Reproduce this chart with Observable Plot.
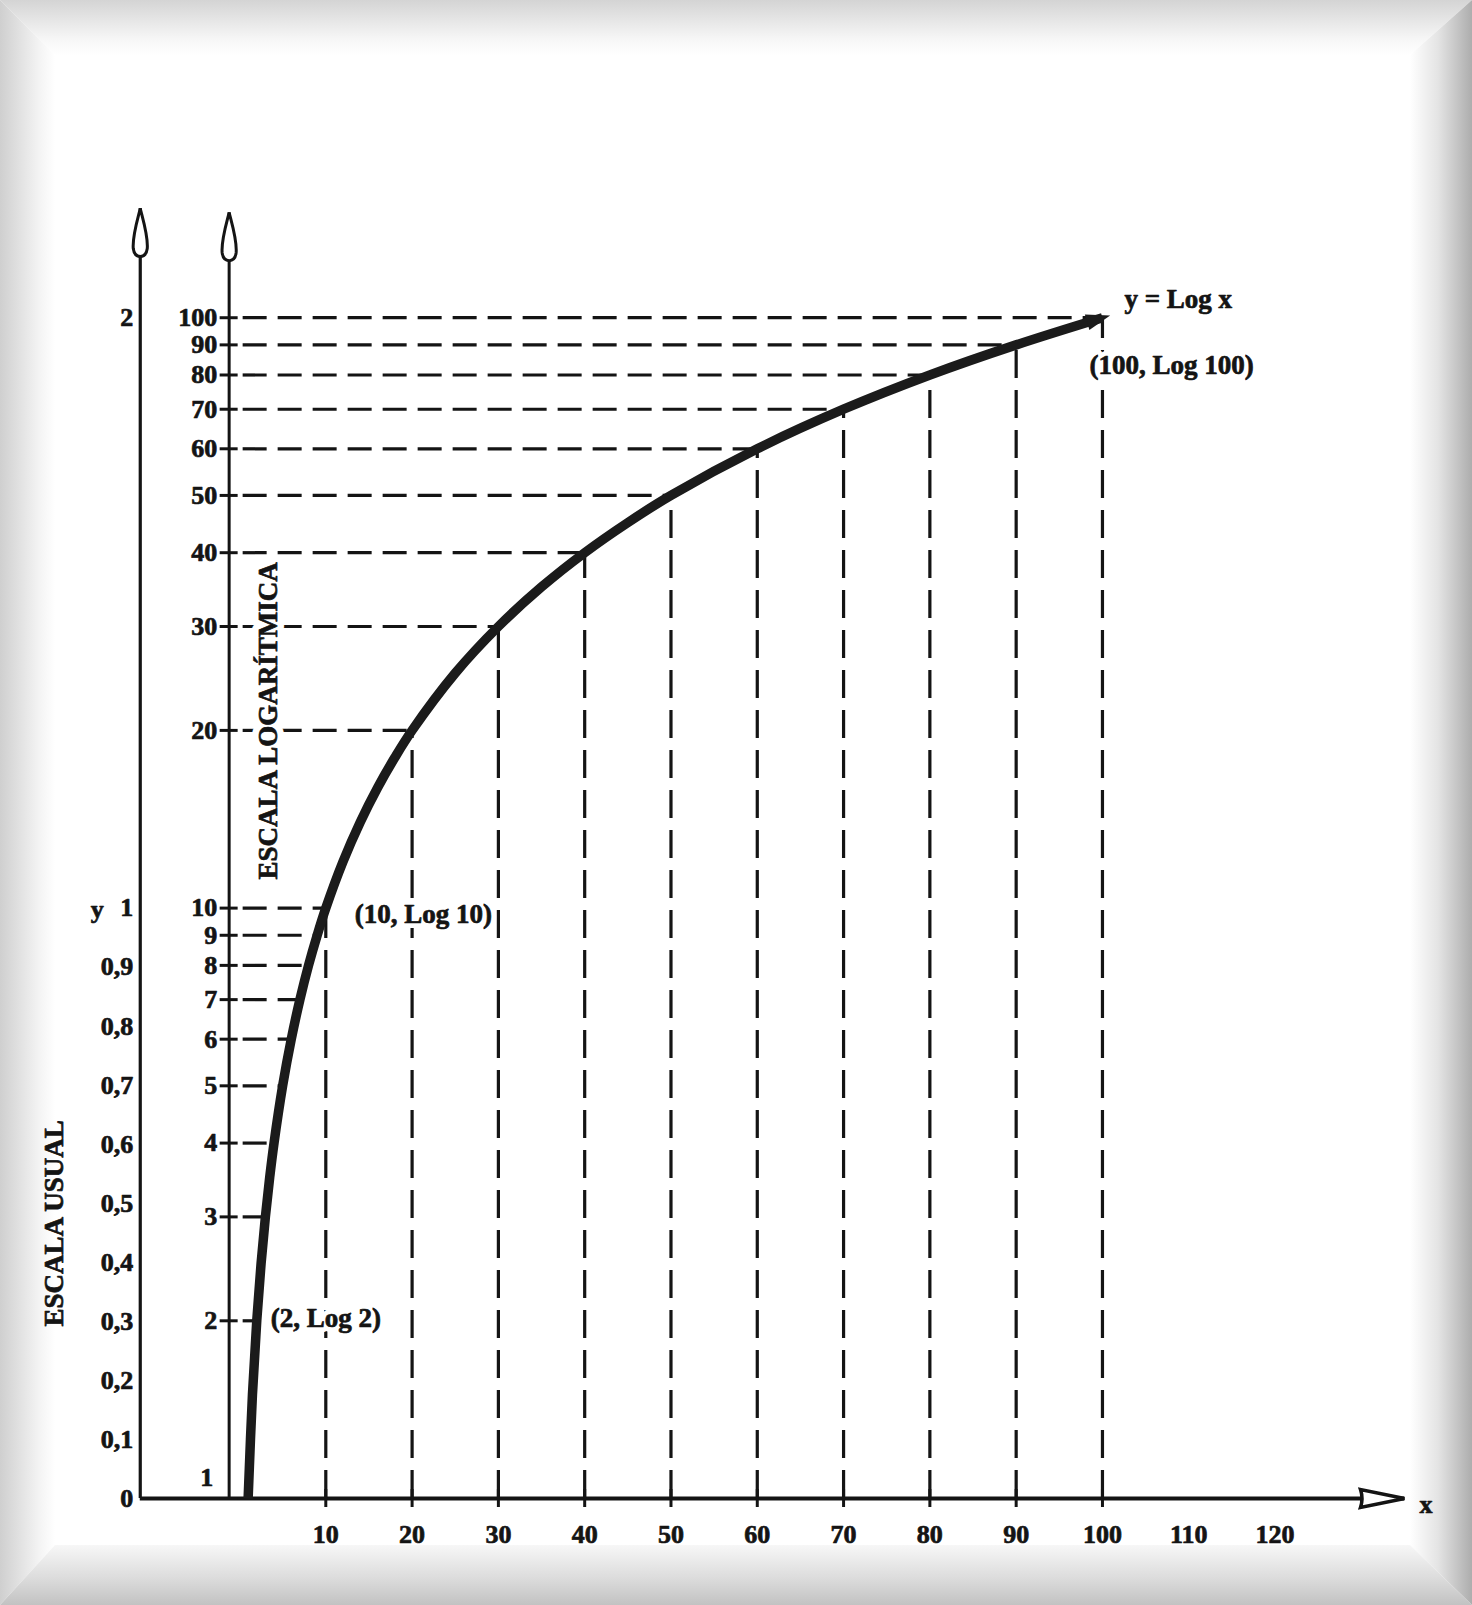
<!DOCTYPE html>
<html>
<head>
<meta charset="utf-8">
<script src="https://cdn.jsdelivr.net/npm/d3@7"></script>
<script src="https://cdn.jsdelivr.net/npm/@observablehq/plot@0.6"></script>
<style>
  html, body { margin: 0; padding: 0; background: #fff; }
  #page { position: relative; width: 1472px; height: 1605px; overflow: hidden; background: #fff; }
  .band { position: absolute; }
  #bTop { left: 0; top: 0; width: 1472px; height: 55px;
          background: linear-gradient(to bottom, #d4d4d4, #f6f6f6 70%, #ffffff);
          clip-path: polygon(0 0, 100% 0, calc(100% - 62px) 100%, 55px 100%); }
  #bLeft { left: 0; top: 0; width: 55px; height: 1605px;
           background: linear-gradient(to right, #cfcfcf, #f3f3f3 70%, #ffffff);
           clip-path: polygon(0 0, 100% 55px, 100% calc(100% - 60px), 0 100%); }
  #bRight { left: 1410px; top: 0; width: 62px; height: 1605px;
            background: linear-gradient(to right, #ffffff, #e4e4e4 45%, #adadad);
            clip-path: polygon(0 55px, 100% 0, 100% 100%, 0 calc(100% - 60px)); }
  #bBottom { left: 0; top: 1545px; width: 1472px; height: 60px;
             background: linear-gradient(to bottom, #f7f7f7, #dcdcdc 55%, #c2c2c2);
             clip-path: polygon(55px 0, calc(100% - 62px) 0, 100% 100%, 0 100%); }
  #chart { position: absolute; left: 0; top: 0; }
</style>
</head>
<body>
<div id="page">
  <div class="band" id="bTop"></div>
  <div class="band" id="bLeft"></div>
  <div class="band" id="bRight"></div>
  <div class="band" id="bBottom"></div>
  <div id="chart"></div>
</div>
<script>
// ---- data ----
// marked values of the logarithmic scale and their position on the usual scale
const logTicks  = [1, 2, 3, 4, 5, 6, 7, 8, 9, 10, 20, 30, 40, 50, 60, 70, 80, 90, 100];
const logValues = [0, 0.301, 0.477, 0.602, 0.699, 0.778, 0.845, 0.903, 0.954, 1,
                   1.301, 1.477, 1.602, 1.699, 1.778, 1.845, 1.903, 1.954, 2];
// points read along the curve y = Log x
const curveX = [1, 1.5, 2, 2.5, 3, 3.5, 4, 5, 6, 7, 8, 9, 10, 12, 14, 16, 18, 20, 25,
                30, 35, 40, 45, 50, 60, 70, 80, 90, 100];
const curveY = [0, 0.176, 0.301, 0.398, 0.477, 0.544, 0.602, 0.699, 0.778, 0.845, 0.903, 0.954, 1,
                1.079, 1.146, 1.204, 1.255, 1.301, 1.398, 1.477, 1.544, 1.602, 1.653, 1.699,
                1.778, 1.845, 1.903, 1.954, 2];
const usualTicks  = [0, 0.1, 0.2, 0.3, 0.4, 0.5, 0.6, 0.7, 0.8, 0.9, 1, 2];
const usualLabels = ["0", "0,1", "0,2", "0,3", "0,4", "0,5", "0,6", "0,7", "0,8", "0,9", "1", "2"];
const xTickValues = [10, 20, 30, 40, 50, 60, 70, 80, 90, 100];
const xLabelValues = [10, 20, 30, 40, 50, 60, 70, 80, 90, 100, 110, 120];
const annotations = [
  {k: 2, v: 0.301, label: "(2, Log 2)"},
  {k: 10, v: 1, label: "(10, Log 10)"},
  {k: 100, v: 2, label: "(100, Log 100)"}
];

// axis placement (data units)
const usualAxisX = -11.5;
const logAxisX = -1.2;
const usualAxisTop = 2.185;
const logAxisTop = 2.178;
const xAxisEnd = 135;

const points = logTicks.map((k, i) => ({k, v: logValues[i]}));
const curve = curveX.map((x, i) => ({x, y: curveY[i]}));
const last = points[points.length - 1];

// ---- custom symbols ----
const flame = { draw(ctx) {
  ctx.moveTo(0, 0);
  ctx.bezierCurveTo(3, 12, 8, 28, 7, 40);
  ctx.quadraticCurveTo(6, 48, 0, 48);
  ctx.quadraticCurveTo(-6, 48, -7, 40);
  ctx.bezierCurveTo(-8, 28, -3, 12, 0, 0);
  ctx.closePath();
}};
const xArrow = { draw(ctx) {
  ctx.moveTo(0, 0);
  ctx.lineTo(-44, -9);
  ctx.quadraticCurveTo(-41, 0, -44, 9);
  ctx.closePath();
}};
const curveArrow = { draw(ctx) {
  ctx.moveTo(8, 0);
  ctx.lineTo(-16, -8);
  ctx.lineTo(-16, 8);
  ctx.closePath();
}};

const ink = "#141414";
const FS = 26;
const bold = {fill: ink, stroke: ink, strokeWidth: 0.7, fontWeight: "bold"};

const annOffsets = [{dx: 14, dy: -2}, {dx: 29, dy: 6}, {dx: -13, dy: 48}];

const chart = Plot.plot({
  width: 1472,
  height: 1605,
  marginLeft: 239,
  marginRight: 68,
  marginTop: 208,
  marginBottom: 107,
  x: {domain: [0, 135], axis: null},
  y: {domain: [0, 2.185], axis: null},
  style: {background: "transparent", fontFamily: "'Liberation Serif', 'DejaVu Serif', serif",
          fontSize: FS + "px", fontWeight: "bold", color: ink, overflow: "visible"},
  marks: [
    // dashed horizontals from log axis to curve
    Plot.ruleY(points.filter(d => d.k > 1), {
      y: "v", x1: () => logAxisX, x2: "k", stroke: ink, strokeWidth: 3.2,
      strokeDasharray: "24,11", insetLeft: 14
    }),
    // dashed verticals from x-axis to curve
    Plot.ruleX(points.filter(d => d.k >= 10), {
      x: "k", y1: () => 0, y2: "v", stroke: ink, strokeWidth: 3.2,
      strokeDasharray: "28,12"
    }),
    // white masks behind annotations and the log-scale title
    ...annotations.map((a, i) => Plot.text([a], {x: "k", y: "v", text: "label", textAnchor: "start",
      dx: annOffsets[i].dx, dy: annOffsets[i].dy, fill: "white", stroke: "white", strokeWidth: 10,
      fontSize: 27, fontWeight: "bold"})),
    Plot.text(["ESCALA LOGARÍTMICA"], {x: () => 3.4, y: () => 1.317, text: d => d, rotate: -90,
      fill: "white", stroke: "white", strokeWidth: 14, fontSize: 27, fontWeight: "bold"}),
    // axes lines
    Plot.ruleX([usualAxisX], {x: d => d, y1: 0, y2: usualAxisTop, stroke: ink, strokeWidth: 3.2}),
    Plot.ruleX([logAxisX], {x: d => d, y1: 0, y2: logAxisTop, stroke: ink, strokeWidth: 3}),
    Plot.ruleY([0], {y: d => d, x1: usualAxisX, x2: xAxisEnd, stroke: ink, strokeWidth: 4}),
    // tick crosses on log axis
    Plot.ruleY(points, {y: "v", x1: () => logAxisX, x2: () => logAxisX,
      insetLeft: -9, insetRight: -9, stroke: ink, strokeWidth: 3}),
    // tick crosses on x-axis
    Plot.ruleX(xTickValues, {x: d => d, y1: () => 0, y2: () => 0,
      insetTop: -9, insetBottom: -9, stroke: ink, strokeWidth: 3}),
    // curve y = log x
    Plot.line(curve, {x: "x", y: "y", curve: "catmull-rom", stroke: "#1b1b1b",
      strokeWidth: 9.5, strokeLinecap: "butt", strokeLinejoin: "round"}),
    Plot.dot([last], {x: "k", y: "v", symbol: curveArrow, fill: "#1b1b1b", stroke: "none", rotate: -16.5}),
    // arrowheads on axes
    Plot.dot([{x: usualAxisX, y: usualAxisTop}], {x: "x", y: "y", symbol: flame,
      fill: "white", stroke: ink, strokeWidth: 3}),
    Plot.dot([{x: logAxisX, y: logAxisTop}], {x: "x", y: "y", symbol: flame,
      fill: "white", stroke: ink, strokeWidth: 3}),
    Plot.dot([{x: xAxisEnd, y: 0}], {x: "x", y: "y", symbol: xArrow,
      fill: "white", stroke: ink, strokeWidth: 3.5}),
    // usual scale labels
    Plot.text(usualTicks, {x: () => usualAxisX, y: d => d, text: (d, i) => usualLabels[i],
      textAnchor: "end", dx: -7, fontSize: FS, ...bold}),
    Plot.text(["y"], {x: () => usualAxisX, y: () => 1, text: d => d, dx: -43, dy: 2,
      fontSize: FS, ...bold}),
    // log scale labels
    Plot.text(points.filter(d => d.k > 1), {x: () => logAxisX, y: "v", text: d => String(d.k),
      textAnchor: "end", dx: -12, fontSize: FS, ...bold}),
    Plot.text(points.filter(d => d.k === 1), {x: () => logAxisX, y: "v", text: d => String(d.k),
      textAnchor: "end", dx: -16, dy: -21, fontSize: FS, ...bold}),
    // x labels
    Plot.text(xLabelValues, {x: d => d, y: () => 0, text: d => String(d), dy: 36,
      fontSize: FS, ...bold}),
    Plot.text(["x"], {x: () => 137.5, y: () => 0, text: d => d, dy: 6,
      fontSize: FS, ...bold}),
    // annotations
    ...annotations.map((a, i) => Plot.text([a], {x: "k", y: "v", text: "label", textAnchor: "start",
      dx: annOffsets[i].dx, dy: annOffsets[i].dy, fontSize: 27, ...bold})),
    Plot.text([last], {x: "k", y: "v", text: () => "y = Log x", textAnchor: "start",
      dx: 22, dy: -18, fontSize: 27, ...bold}),
    // rotated scale titles
    Plot.text(["ESCALA USUAL"], {x: () => -21.4, y: () => 0.466, text: d => d, rotate: -90,
      fontSize: 27, ...bold}),
    Plot.text(["ESCALA LOGARÍTMICA"], {x: () => 3.4, y: () => 1.317, text: d => d, rotate: -90,
      fontSize: 27, ...bold})
  ]
});
document.getElementById("chart").appendChild(chart);
</script>
</body>
</html>
